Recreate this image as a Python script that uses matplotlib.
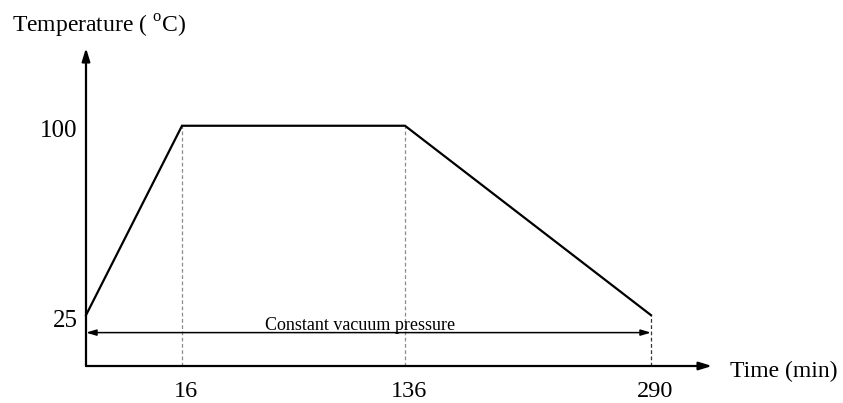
import numpy as np
import matplotlib
matplotlib.use("Agg")
import matplotlib.pyplot as plt
from matplotlib.transforms import ScaledTranslation

plt.rcParams["font.family"] = ["Liberation Serif", "DejaVu Serif"]
plt.rcParams["mathtext.fontset"] = "custom"
plt.rcParams["mathtext.rm"] = "Liberation Serif"

# profile data (schematic)
times = [0, 16, 136, 290]
temps = [25, 100, 100, 25]
xtick_times = [16, 136, 290]
ytick_temps = [25, 100]
band_label = "Constant vacuum pressure"

# schematic (non-linear) time axis: pixel offsets of each knot
knot_t = [0, 16, 136, 290, 400]
knot_px = [0, 96, 319, 565, 740.7]


def fwd(t):
    return np.interp(t, knot_t, knot_px)


def inv(p):
    return np.interp(p, knot_px, knot_t)


W, H = 843, 403
fig = plt.figure(figsize=(W / 100, H / 100), dpi=100)
ax = fig.add_axes([86 / W, (H - 366) / H, 626 / W, 318 / H])
ax.set_xscale("function", functions=(fwd, inv))

px_per_deg = 190 / 75
ybot = 25 - 51 / px_per_deg
ytop = 100 + 78 / px_per_deg
tmax = inv(626)
ax.set_xlim(0, tmax)
ax.set_ylim(ybot, ytop)

for s in ax.spines.values():
    s.set_visible(False)

# axes arrows
arrow = dict(arrowstyle="-|>,head_length=0.55,head_width=0.17", color="black",
             lw=1.6, shrinkA=0, shrinkB=0, mutation_scale=14)
ax.annotate("", xy=(0, ytop), xytext=(0, ybot), arrowprops=arrow, annotation_clip=False)
ax.annotate("", xy=(tmax, ybot), xytext=(0, ybot), arrowprops=arrow, annotation_clip=False)

# guide lines
ax.vlines(times[1:3], ybot, temps[1:3], colors="#8c8c8c", lw=0.9,
          linestyles=(0, (3, 2)), clip_on=False)
ax.vlines(times[3], ybot, temps[3], colors="#333333", lw=0.9,
          linestyles=(0, (3, 2)), clip_on=False)

# temperature profile
ax.plot(times, temps, color="black", lw=1.6, solid_joinstyle="miter", clip_on=False)

# constant pressure span
yband = 25 - 17.5 / px_per_deg
ax.annotate("", xy=(times[-1], yband), xytext=(times[0], yband),
            arrowprops=dict(arrowstyle="<|-|>,head_length=0.5,head_width=0.15",
                            color="black", lw=1.1, shrinkA=0, shrinkB=0,
                            mutation_scale=12), annotation_clip=False)
ax.text(inv(274), yband + 2.5 / px_per_deg, band_label, ha="center", va="baseline",
        fontsize=13)

ax.set_xticks(xtick_times)
ax.set_xticklabels([str(t) for t in xtick_times], fontsize=17.5)
ax.set_yticks(ytick_temps)
ax.set_yticklabels([str(t) for t in ytick_temps], fontsize=18)
ax.tick_params(axis="x", length=0, pad=10.5)
ax.tick_params(axis="y", length=0, pad=6)
for lab in ax.get_xticklabels():
    lab.set_transform(lab.get_transform() + ScaledTranslation(0.04, 0, fig.dpi_scale_trans))
for lab in ax.get_yticklabels():
    lab.set_transform(lab.get_transform() + ScaledTranslation(0, -0.03, fig.dpi_scale_trans))

fig.text(12 / W, 1 - 33 / H, r"Temperature ( $^{\mathrm{o}}$C)", fontsize=17,
         ha="left", va="baseline")
fig.text(730 / W, 1 - 377 / H, "Time (min)", fontsize=17, ha="left", va="baseline")

fig.savefig("out.png", dpi=100)
